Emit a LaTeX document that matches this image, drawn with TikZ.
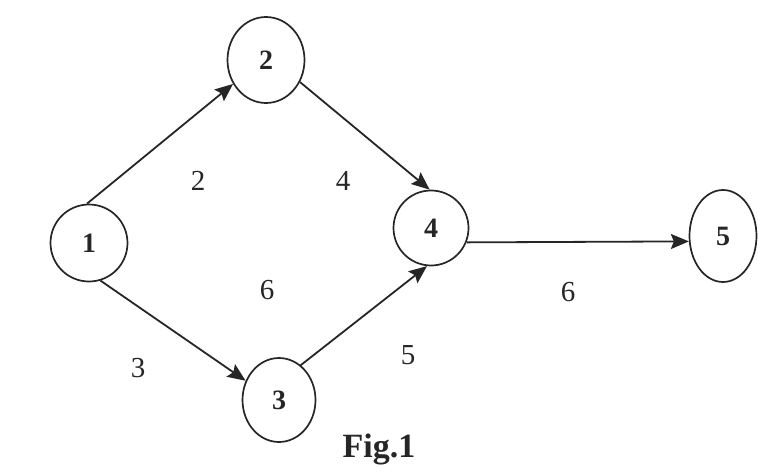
\documentclass[tikz,border=0pt]{standalone}
\usepackage{fontspec}
\setmainfont{Liberation Serif}
\usetikzlibrary{arrows.meta,shapes.geometric}
\definecolor{ink}{HTML}{262626}
\begin{document}
\begin{tikzpicture}[x=1pt,y=-1pt,
  state/.style={draw=ink, ellipse, line width=1.7pt, inner sep=0pt, text=ink,
    font=\fontsize{28}{28}\selectfont\bfseries},
  edge/.style={draw=ink, line width=1.8pt, -{Stealth[length=18pt,width=15pt,inset=3pt]}},
  wlabel/.style={text=ink, inner sep=0pt, font=\fontsize{29}{29}\selectfont}]
\useasboundingbox (0,0) rectangle (758,476);
\fill[white] (0,0) rectangle (758,476);
% nodes
\node[state, minimum width=77pt, minimum height=77pt] (n1) at (89,243) {1};
\node[state, minimum width=77pt, minimum height=86pt] (n2) at (266,60) {2};
\node[state, minimum width=73pt, minimum height=84pt] (n3) at (279,400) {3};
\node[state, minimum width=75pt, minimum height=75pt] (n4) at (431,228) {4};
\node[state, minimum width=67pt, minimum height=92pt] (n5) at (723,236) {5};
% connectors
\draw[edge] (n1.93) -- (n2.216);
\draw[edge] (n2.327) -- (n4.92);
\draw[edge] (n1.287) -- (n3.150);
\draw[edge] (n3.58) -- (n4.264);
\draw[edge] (n4.338) -- (n5.189);
% weights
\node[wlabel] (w12) at (198,181) {2};
\node[wlabel] (w24) at (343,181) {4};
\node[wlabel] (w6a) at (267,290) {6};
\node[wlabel] (w13) at (138,368) {3};
\node[wlabel] (w34) at (408,355) {5};
\node[wlabel] (w45) at (568,292) {6};
% caption
\node[text=ink, inner sep=0pt, font=\fontsize{34}{34}\selectfont\bfseries] (cap) at (379,449) {Fig.1};
\end{tikzpicture}
\end{document}
